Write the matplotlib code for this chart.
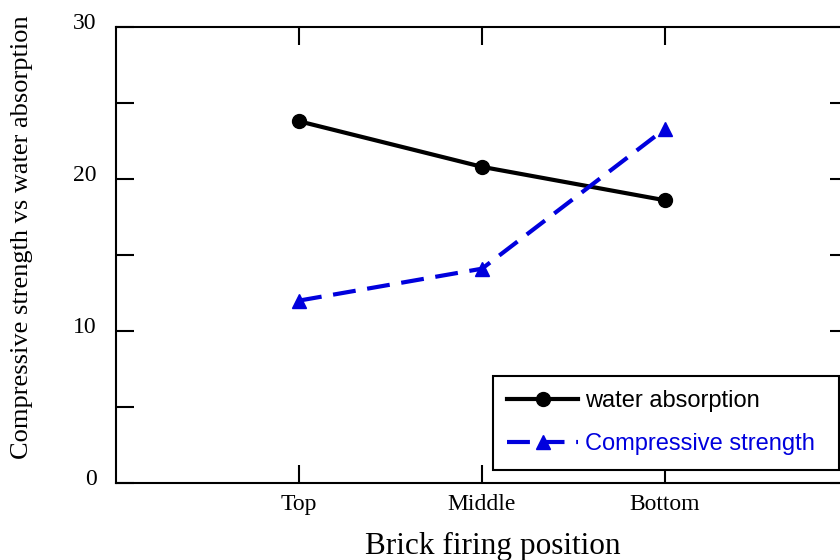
import matplotlib.pyplot as plt
import matplotlib.transforms as mtransforms
from matplotlib.ticker import MultipleLocator

positions = ["Top", "Middle", "Bottom"]
water_absorption = [23.8, 20.8, 18.6]
compressive_strength = [12.0, 14.1, 23.3]

serif = ["Liberation Serif", "DejaVu Serif"]
sans = ["Liberation Sans", "DejaVu Sans"]

fig = plt.figure(figsize=(8.4, 5.6), dpi=100)
ax = fig.add_axes([116 / 840, 1 - 483 / 560, (848 - 116) / 840, (483 - 27) / 560])

x = [1, 2, 3]
ax.plot(x, water_absorption, color="black", lw=3, marker="o", ms=10,
        label="water absorption")
ax.plot(x, compressive_strength, color="#0000dd", lw=3, ls=(0, (5.5, 2.8)),
        marker="^", ms=10, label="Compressive strength")

ax.set_xlim(0, 4)
ax.set_ylim(0, 30)
ax.set_xticks(x)
ax.set_xticklabels(positions, family=serif, fontsize=17)
ax.yaxis.set_major_locator(MultipleLocator(10))
ax.yaxis.set_minor_locator(MultipleLocator(5))

ax.tick_params(which="both", direction="in", length=13, width=1.5,
               top=True, right=True)
ax.tick_params(axis="y", pad=14)
ax.tick_params(axis="x", pad=8)
for s in ax.spines.values():
    s.set_linewidth(1.5)

# y labels sit a little above their ticks in the original
shift = mtransforms.ScaledTranslation(0, 6 / 100, fig.dpi_scale_trans)
for lab in ax.get_yticklabels():
    lab.set_family(serif)
    lab.set_fontsize(17)
    lab.set_transform(lab.get_transform() + shift)

ax.set_xlabel("Brick firing position", family=serif, fontsize=22.5)
ax.xaxis.set_label_coords(0.515, -0.14)
ax.xaxis.label.set_verticalalignment("center")
ax.set_ylabel("Compressive strength vs water absorption", family=serif,
              fontsize=19)
ax.yaxis.set_label_coords(-0.128, 0.539)
ax.yaxis.label.set_verticalalignment("center")

leg = ax.legend(loc="upper left", bbox_to_anchor=((493 - 116) / 732, (483 - 376) / 456,
                                                  (839 - 493) / 732, 0),
                mode="expand", prop={"family": sans, "size": 17}, frameon=True,
                fancybox=False, edgecolor="black", framealpha=1,
                handlelength=3.0, handletextpad=0.3, borderaxespad=0,
                labelspacing=0.9, borderpad=0.6)
leg.get_frame().set_linewidth(1.5)
leg.get_texts()[1].set_color("#0000dd")

fig.savefig("out.png", dpi=100)
